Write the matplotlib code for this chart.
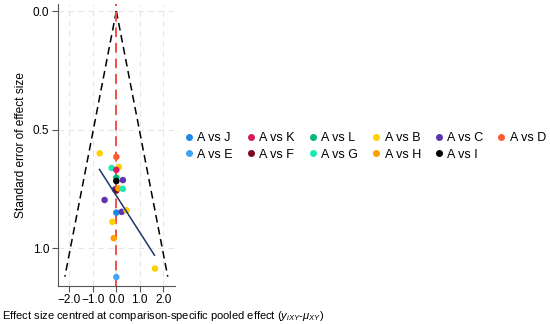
import numpy as np
import matplotlib.pyplot as plt
from matplotlib.lines import Line2D

plt.rcParams['font.family'] = ['Liberation Sans', 'DejaVu Sans']
plt.rcParams['mathtext.fontset'] = 'custom'
plt.rcParams['mathtext.it'] = 'Liberation Sans:italic'
plt.rcParams['mathtext.rm'] = 'Liberation Sans'

# 比较组与颜色
comparisons = ['A vs J', 'A vs K', 'A vs L', 'A vs B', 'A vs C', 'A vs D',
               'A vs E', 'A vs F', 'A vs G', 'A vs H', 'A vs I']
colors = ['#1E88E5', '#D81B60', '#00B87A', '#FFD000', '#5E35B1', '#FF5A2E',
          '#42A5F5', '#7B0A1E', '#1DE9B6', '#FFA000', '#000000']

# 各研究点：比较组、中心化效应量、标准误
pt_group = ['A vs B', 'A vs D', 'A vs G', 'A vs B', 'A vs K', 'A vs L', 'A vs I',
            'A vs C', 'A vs C', 'A vs F', 'A vs H', 'A vs G', 'A vs C', 'A vs J',
            'A vs C', 'A vs B', 'A vs B', 'A vs H', 'A vs B', 'A vs E']
pt_effect = [-0.71, 0.0, -0.2, 0.11, 0.0, 0.0, 0.0,
             0.28, -0.06, 0.0, 0.09, 0.28, -0.5, 0.0,
             0.23, 0.43, -0.17, -0.11, 1.65, 0.0]
pt_se = [0.60, 0.615, 0.662, 0.658, 0.67, 0.703, 0.717,
         0.713, 0.752, 0.757, 0.748, 0.75, 0.797, 0.85,
         0.847, 0.84, 0.889, 0.958, 1.086, 1.122]

# 回归线端点
line_effect = [-0.72, 1.63]
line_se = [0.668, 1.03]

# 漏斗
funnel_se = np.array([0.0, 1.12])

fig = plt.figure(figsize=(5.5, 3.24), dpi=100)
ax = fig.add_axes([0.105, 0.117, 0.213, 0.871])

ax.grid(True, color='#e6e6e6', linestyle=(0, (5, 4)), linewidth=0.8)
ax.set_axisbelow(True)

ax.plot(1.96 * funnel_se, funnel_se, color='black', linestyle=(0, (5, 3)), linewidth=1.1)
ax.plot(-1.96 * funnel_se, funnel_se, color='black', linestyle=(0, (5, 3)), linewidth=1.1)
ax.axvline(0, color='#F0504A', linestyle=(0, (5, 3)), linewidth=1.4)

cmap = dict(zip(comparisons, colors))
ax.scatter(pt_effect, pt_se, c=[cmap[g] for g in pt_group], s=22, zorder=3, linewidths=0)
ax.plot(line_effect, line_se, color='#1A3A6B', linewidth=1.1, zorder=4)

ax.set_xlim(-2.5, 2.5)
ax.set_ylim(1.16, -0.03)
ax.set_xticks([-2, -1, 0, 1, 2])
ax.set_xticklabels(['\u22122.0', '\u22121.0', '0.0', '1.0', '2.0'])
ax.set_yticks([0, 0.5, 1.0])
ax.set_yticklabels(['0.0', '0.5', '1.0'])
for s in ['top', 'right']:
    ax.spines[s].set_visible(False)
for s in ['left', 'bottom']:
    ax.spines[s].set_color('#555555')
ax.tick_params(labelsize=8.5, color='#555555', length=4, pad=2)
ax.set_ylabel('Standard error of effect size', fontsize=8.6, labelpad=4)

fig.text(0.004, 0.016, r'Effect size centred at comparison-specific pooled effect ($y_{iXY}$-$\mu_{XY}$)',
         fontsize=8, ha='left', va='baseline')

# 图例按行排列
order = [0, 6, 1, 7, 2, 8, 3, 9, 4, 10, 5]
handles = [Line2D([], [], marker='o', linestyle='', color=colors[i], markersize=4) for i in order]
labels = [comparisons[i] for i in order]
fig.legend(handles, labels, ncol=6, loc='center left', bbox_to_anchor=(0.32, 0.548),
           frameon=False, fontsize=9, handletextpad=0.1, columnspacing=0.82,
           handlelength=1.2, labelspacing=0.35, borderaxespad=0)

fig.savefig('out.png', dpi=100)
